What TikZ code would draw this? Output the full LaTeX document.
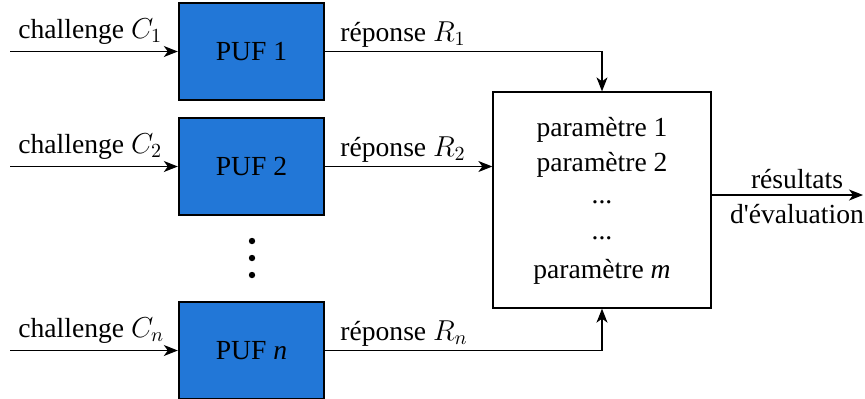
\documentclass[tikz,border=0pt]{standalone}
\usepackage{fontspec}
\setmainfont{Liberation Serif}[Ligatures=TeXOff]
\usetikzlibrary{arrows.meta}
\definecolor{pufblue}{RGB}{34,119,215}
\begin{document}
\begin{tikzpicture}[x=0.5pt,y=-0.5pt,
  font=\rmfamily\fontsize{13.8}{16}\selectfont,
  puf/.style={draw=black,line width=1.2pt,fill=pufblue,minimum width=72.5pt,minimum height=48.5pt,inner sep=0pt},
  conn/.style={line width=0.6pt,-{Stealth[length=7pt,width=5.5pt,inset=2pt]}},
  lbl/.style={inner sep=0pt}]
\useasboundingbox (0,0) rectangle (865,398);
\node[puf] (p1) at (251.5,51.5) {PUF 1};
\node[puf] (p2) at (251.5,166.5) {PUF 2};
\node[puf] (pn) at (251.5,350.5) {PUF \textit{n}};
\node[draw=black,line width=0.65pt,minimum width=109pt,minimum height=108pt,inner sep=0pt] (ev) at (602,200) {};
\coordinate (i1) at (10,51.5);
\coordinate (i2) at (10,166.5);
\coordinate (in) at (10,350.5);
\coordinate (o) at (863,195);
\draw[conn] (i1) -- (p1.west);
\draw[conn] (i2) -- (p2.west);
\draw[conn] (in) -- (pn.west);
\draw[conn] (p1.east) -| (ev.north);
\draw[conn] (p2.east) -- (ev.west |- p2.east);
\draw[conn] (pn.east) -| (ev.south);
\draw[conn] (ev.east |- o) -- (o);
\node[lbl,anchor=base west] (c1) at (18,38) {challenge $C_1$};
\node[lbl,anchor=base west] (c2) at (18,153) {challenge $C_2$};
\node[lbl,anchor=base west] (cn) at (18,337) {challenge $C_n$};
\node[lbl,anchor=base west] (r1) at (340,41) {réponse $R_1$};
\node[lbl,anchor=base west] (r2) at (340,156) {réponse $R_2$};
\node[lbl,anchor=base west] (rn) at (340,340) {réponse $R_n$};
\node[lbl] (t1) at (602,130) {paramètre 1};
\node[lbl] (t2) at (602,165) {paramètre 2};
\node[lbl] (t3) at (602,202) {...};
\node[lbl] (t4) at (602,238) {...};
\node[lbl] (t5) at (602,272) {paramètre \textit{m}};
\node[lbl] (s1) at (797,179) {résultats};
\node[lbl] (s2) at (797,214) {d'évaluation};
\fill (252,241) circle (1.6pt) (252,258) circle (1.6pt) (252,275) circle (1.6pt);
\end{tikzpicture}
\end{document}
